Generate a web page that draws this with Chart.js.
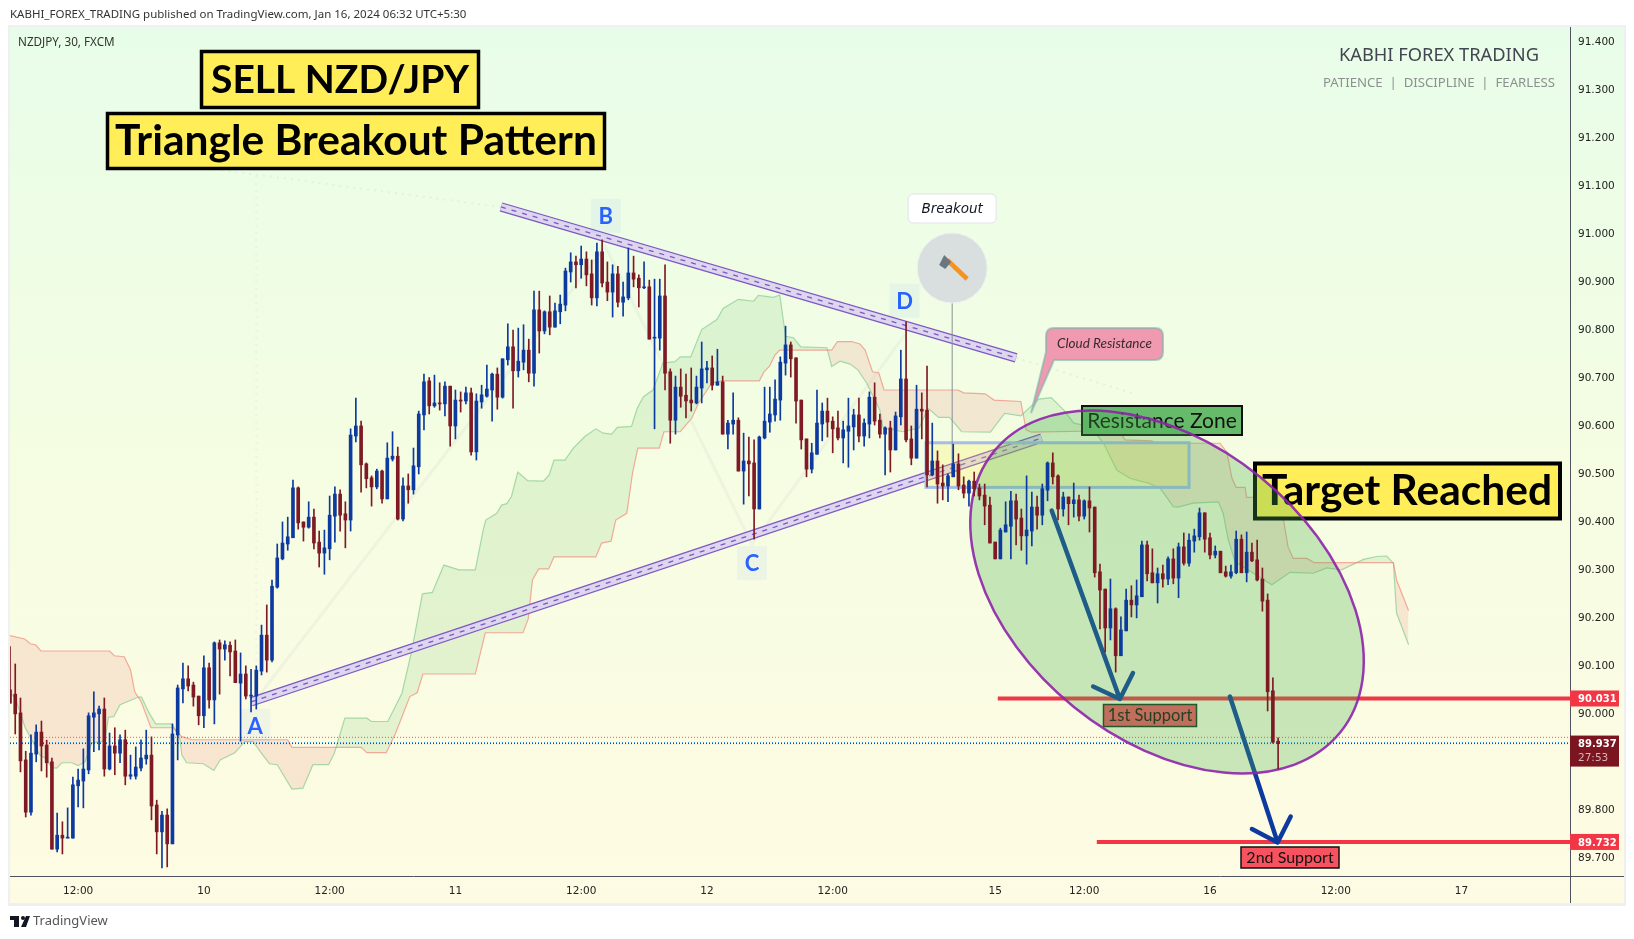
<!DOCTYPE html>
<html>
<head>
<meta charset="utf-8">
<title>NZDJPY</title>
<style>
  html, body { margin: 0; padding: 0; background: #fff; }
  #wrap { width: 1634px; height: 939px; }
</style>
</head>
<body>
<div id="wrap"><canvas id="chart" width="1634" height="939"></canvas></div>
<script src="https://cdn.jsdelivr.net/npm/chart.js@4/dist/chart.umd.min.js"></script>
<script>
// NZDJPY 30m candles, bar by bar
const opens = [
  90.049,90.040,90.001,89.903,89.794,89.915,89.961,89.934,89.899,89.717,
  89.746,89.740,89.740,89.849,89.859,89.882,89.992,89.999,90.009,89.884,
  89.932,89.917,89.945,89.869,89.869,89.886,89.905,89.913,89.809,89.753,
  89.788,89.728,89.955,90.051,90.072,90.059,90.036,89.995,90.095,90.028,
  90.147,90.134,90.142,90.130,90.063,90.082,90.036,90.036,90.088,90.163,
  90.111,90.263,90.322,90.353,90.366,90.470,90.399,90.388,90.409,90.357,
  90.334,90.343,90.411,90.457,90.416,90.403,90.578,90.599,90.520,90.491,
  90.472,90.505,90.447,90.530,90.536,90.405,90.474,90.466,90.514,90.622,
  90.693,90.641,90.647,90.645,90.682,90.599,90.653,90.651,90.668,90.545,
  90.649,90.661,90.674,90.707,90.659,90.737,90.764,90.714,90.732,90.757,
  90.709,90.841,90.797,90.837,90.805,90.837,90.851,90.920,90.941,90.935,
  90.947,90.916,90.866,90.962,90.899,90.878,90.916,90.857,90.866,90.918,
  90.907,90.887,90.889,90.782,90.782,90.870,90.712,90.611,90.680,90.663,
  90.653,90.647,90.678,90.716,90.720,90.684,90.691,90.582,90.603,90.611,
  90.505,90.526,90.522,90.426,90.574,90.607,90.622,90.653,90.730,90.768,
  90.741,90.653,90.572,90.509,90.540,90.603,90.630,90.609,90.595,90.574,
  90.588,90.597,90.622,90.578,90.603,90.659,90.611,90.582,90.595,90.549,
  90.618,90.697,90.572,90.532,90.634,90.632,90.497,90.526,90.480,90.474,
  90.493,90.520,90.476,90.459,90.484,90.470,90.455,90.434,90.357,90.322,
  90.378,90.390,90.443,90.407,90.370,90.380,90.430,90.413,90.465,90.522,
  90.495,90.426,90.451,90.437,90.445,90.411,90.443,90.430,90.295,90.259,
  90.178,90.218,90.120,90.172,90.236,90.226,90.243,90.351,90.293,90.272,
  90.291,90.280,90.322,90.282,90.347,90.313,90.359,90.368,90.418,90.366,
  90.330,90.338,90.295,90.286,90.293,90.363,90.293,90.336,90.320,90.280,
  90.236,90.047,89.942
];
const closes = [
  90.021,89.999,89.901,89.794,89.917,89.961,89.932,89.897,89.717,89.746,
  89.740,89.742,89.851,89.861,89.884,89.995,90.001,90.009,89.884,89.932,
  89.917,89.945,89.869,89.872,89.888,89.907,89.913,89.807,89.753,89.788,
  89.728,89.957,90.053,90.072,90.057,90.034,89.995,90.095,90.028,90.147,
  90.134,90.143,90.128,90.064,90.082,90.036,90.038,90.090,90.163,90.111,
  90.265,90.324,90.355,90.368,90.470,90.397,90.388,90.409,90.355,90.334,
  90.345,90.413,90.457,90.413,90.403,90.580,90.599,90.518,90.489,90.472,
  90.505,90.447,90.532,90.536,90.405,90.474,90.466,90.516,90.624,90.691,
  90.641,90.647,90.645,90.682,90.599,90.653,90.651,90.668,90.545,90.651,
  90.664,90.676,90.707,90.659,90.739,90.764,90.714,90.734,90.757,90.709,
  90.841,90.797,90.837,90.805,90.839,90.853,90.922,90.941,90.935,90.947,
  90.914,90.866,90.962,90.897,90.878,90.916,90.857,90.868,90.918,90.905,
  90.887,90.889,90.780,90.784,90.870,90.709,90.611,90.680,90.661,90.651,
  90.647,90.680,90.718,90.720,90.684,90.691,90.582,90.605,90.611,90.505,
  90.526,90.520,90.426,90.576,90.609,90.624,90.655,90.732,90.768,90.739,
  90.651,90.570,90.509,90.543,90.605,90.630,90.607,90.593,90.574,90.591,
  90.599,90.622,90.578,90.605,90.659,90.609,90.582,90.595,90.549,90.620,
  90.697,90.570,90.532,90.634,90.630,90.497,90.526,90.478,90.474,90.495,
  90.520,90.474,90.459,90.484,90.468,90.453,90.432,90.355,90.322,90.382,
  90.393,90.443,90.405,90.370,90.382,90.430,90.413,90.468,90.522,90.493,
  90.426,90.451,90.437,90.445,90.411,90.443,90.428,90.293,90.257,90.178,
  90.218,90.120,90.174,90.236,90.226,90.245,90.351,90.291,90.272,90.291,
  90.280,90.322,90.282,90.347,90.313,90.361,90.370,90.418,90.363,90.330,
  90.338,90.293,90.286,90.295,90.363,90.293,90.336,90.318,90.278,90.234,
  90.045,89.940,89.937
];
const highs = [
  90.139,90.103,90.032,89.921,89.955,89.976,89.984,89.944,89.907,89.792,
  89.774,89.803,89.867,89.884,89.926,90.001,90.045,90.015,90.032,89.959,
  89.970,89.955,89.965,89.913,89.930,89.945,89.965,89.951,89.819,89.796,
  89.801,89.978,90.059,90.105,90.099,90.065,90.036,90.120,90.105,90.149,
  90.153,90.151,90.149,90.153,90.126,90.099,90.092,90.099,90.184,90.226,
  90.278,90.353,90.399,90.409,90.486,90.472,90.399,90.441,90.426,90.380,
  90.382,90.453,90.472,90.466,90.441,90.593,90.657,90.609,90.522,90.495,
  90.509,90.507,90.564,90.587,90.555,90.491,90.499,90.553,90.630,90.707,
  90.700,90.705,90.689,90.691,90.682,90.674,90.670,90.680,90.678,90.666,
  90.684,90.726,90.709,90.720,90.739,90.812,90.799,90.803,90.810,90.780,
  90.880,90.880,90.839,90.870,90.855,90.872,90.928,90.960,90.953,90.974,
  90.962,90.945,90.980,90.987,90.941,90.935,90.932,90.899,90.970,90.953,
  90.914,90.941,90.903,90.905,90.905,90.935,90.718,90.703,90.718,90.707,
  90.720,90.703,90.774,90.734,90.745,90.759,90.703,90.611,90.668,90.616,
  90.584,90.576,90.570,90.578,90.680,90.680,90.695,90.743,90.807,90.774,
  90.741,90.653,90.572,90.563,90.674,90.647,90.657,90.618,90.630,90.609,
  90.657,90.634,90.657,90.614,90.670,90.689,90.624,90.597,90.609,90.628,
  90.757,90.816,90.599,90.684,90.668,90.724,90.605,90.547,90.518,90.499,
  90.561,90.541,90.493,90.486,90.503,90.478,90.478,90.451,90.357,90.386,
  90.441,90.463,90.457,90.426,90.495,90.461,90.453,90.478,90.524,90.543,
  90.497,90.461,90.451,90.480,90.455,90.445,90.472,90.430,90.311,90.259,
  90.280,90.220,90.201,90.259,90.266,90.278,90.359,90.359,90.343,90.303,
  90.309,90.326,90.343,90.355,90.376,90.374,90.384,90.428,90.418,90.376,
  90.349,90.338,90.307,90.309,90.380,90.372,90.378,90.355,90.361,90.303,
  90.249,90.074,89.949
];
const lows = [
  90.021,89.957,89.878,89.784,89.788,89.899,89.880,89.867,89.717,89.711,
  89.707,89.740,89.740,89.805,89.803,89.874,89.920,89.924,89.869,89.882,
  89.872,89.897,89.851,89.863,89.863,89.880,89.894,89.778,89.707,89.678,
  89.680,89.728,89.903,90.022,90.047,90.015,89.976,89.970,90.011,89.978,
  90.040,90.111,90.078,90.064,89.942,90.030,90.003,90.009,90.080,90.086,
  90.107,90.261,90.320,90.340,90.366,90.384,90.359,90.386,90.343,90.305,
  90.290,90.320,90.357,90.380,90.345,90.380,90.566,90.461,90.470,90.432,
  90.468,90.438,90.447,90.526,90.403,90.401,90.438,90.457,90.499,90.591,
  90.624,90.638,90.632,90.620,90.557,90.572,90.628,90.645,90.538,90.528,
  90.636,90.659,90.609,90.634,90.657,90.726,90.636,90.701,90.716,90.691,
  90.682,90.751,90.791,90.789,90.805,90.812,90.839,90.899,90.887,90.907,
  90.891,90.851,90.849,90.889,90.860,90.826,90.847,90.828,90.862,90.889,
  90.847,90.885,90.780,90.593,90.757,90.674,90.563,90.582,90.638,90.616,
  90.630,90.645,90.647,90.689,90.674,90.684,90.582,90.551,90.582,90.505,
  90.436,90.453,90.363,90.426,90.572,90.586,90.609,90.611,90.705,90.701,
  90.605,90.551,90.493,90.501,90.540,90.568,90.576,90.543,90.570,90.522,
  90.513,90.549,90.566,90.557,90.574,90.601,90.574,90.497,90.503,90.549,
  90.601,90.566,90.518,90.532,90.572,90.472,90.495,90.438,90.445,90.441,
  90.493,90.466,90.449,90.432,90.453,90.445,90.393,90.355,90.322,90.322,
  90.378,90.322,90.351,90.340,90.311,90.349,90.384,90.393,90.443,90.478,
  90.403,90.411,90.393,90.409,90.401,90.405,90.378,90.284,90.176,90.128,
  90.153,90.086,90.120,90.172,90.201,90.199,90.243,90.276,90.272,90.230,
  90.263,90.268,90.270,90.241,90.309,90.307,90.336,90.361,90.336,90.322,
  90.324,90.293,90.284,90.282,90.291,90.293,90.274,90.316,90.276,90.213,
  90.005,89.938,89.884
];

// ichimoku cloud edges, corners only: bar position and price
const spanBBars = [0,2.8,3.9,4.9,5.9,19,19.9,21.8,23,23.8,25,26.9,31.2,32.7,34.7,53,53.8,67,68.1,71.8,73.6,76.3,77.7,78.8,88.8,90.7,97.9,98.9,99.7,100.9,102.8,103.8,111.8,112.9,114.7,115.6,117.7,118.8,119.8,123.9,124.8,127.9,130.1,131.4,133.9,135.8,143,143.9,144.9,146,146.9,156.8,157.9,160.6,162.2,163.2,164.6,165.8,166.8,180.9,182,186.1,187.8,192.9,193.9,194.9,209.9,210.9,212.8,217.9,218.8,230.9,232.2,233.2,234,235.7,236,238.9,239.8,243,243.9,244.9,247.5,248.9,264,264.6,266.9];
const spanB = [90.162,90.155,90.145,90.143,90.130,90.130,90.120,90.118,90.091,90.045,90.025,89.970,89.970,89.952,89.945,89.945,89.929,89.929,89.918,89.918,89.959,90.035,90.043,90.082,90.082,90.168,90.168,90.197,90.278,90.301,90.301,90.326,90.326,90.355,90.359,90.403,90.417,90.501,90.553,90.553,90.587,90.587,90.615,90.647,90.688,90.693,90.693,90.712,90.723,90.747,90.757,90.757,90.775,90.775,90.770,90.757,90.712,90.710,90.674,90.674,90.668,90.666,90.653,90.650,90.591,90.586,90.589,90.601,90.570,90.568,90.563,90.563,90.545,90.490,90.471,90.471,90.450,90.450,90.407,90.405,90.347,90.323,90.323,90.314,90.314,90.278,90.214];
const spanABars = [0,1,2.9,3.8,5.7,6.7,8,8.9,9.9,11.8,13,14.3,15.6,18.1,18.8,19.8,21,24.5,25.1,26.4,27.8,30.9,32.4,32.8,33.7,36.9,38.9,40.1,42.9,44.8,46.4,47.9,49.5,51,53.8,55.9,57.8,60.8,61.9,63.9,68.1,69,72.1,74.8,76.7,78.7,80.6,82.8,85.7,88.8,90.3,90.8,92.9,93.8,94.8,95.7,96.9,98.8,101.8,102.9,103.8,105.9,107.5,109.7,111.8,113.2,114.8,115.9,118.6,119.7,120.9,122.7,124.6,126.9,127.9,129.9,132,134.9,136.1,139,141.9,142.8,145.7,146.9,148,149.5,150.9,155.9,156.8,158.4,160.3,161.8,163.5,166,166.6,170.4,173.5,175.2,177.2,179.3,181.6,187.1,189.8,192.9,196.3,198.7,201.1,203,206.1,208.7,211.2,213.7,217.2,219.5,222,222.9,225.8,230.6,231.5,232.5,233.8,240.8,244.3,248.7,251.3,254.1,258.3,260.8,262.7,264,264.6,266.9];
const spanA = [90.042,90.032,89.970,89.952,89.913,89.907,89.887,89.886,89.897,89.897,89.891,89.899,89.938,89.943,89.992,89.993,90.018,90.034,90.034,90.004,89.978,89.978,89.948,89.913,89.897,89.895,89.881,89.903,89.918,89.941,89.941,89.918,89.895,89.893,89.842,89.844,89.893,89.893,89.917,89.990,89.990,89.983,89.983,90.042,90.132,90.249,90.252,90.309,90.299,90.299,90.382,90.403,90.417,90.434,90.437,90.452,90.503,90.485,90.484,90.497,90.528,90.528,90.553,90.577,90.593,90.584,90.582,90.596,90.598,90.636,90.660,90.674,90.730,90.733,90.743,90.743,90.800,90.821,90.844,90.863,90.859,90.871,90.867,90.872,90.786,90.783,90.764,90.762,90.723,90.734,90.728,90.716,90.688,90.632,90.595,90.587,90.595,90.636,90.617,90.617,90.587,90.586,90.625,90.620,90.655,90.658,90.632,90.605,90.598,90.563,90.507,90.490,90.480,90.469,90.431,90.430,90.438,90.441,90.417,90.361,90.316,90.268,90.294,90.292,90.303,90.299,90.321,90.327,90.328,90.313,90.209,90.143];

// axis ticks
const xTickBars = [13,37,61,85,109,133,157,188,205,229,253,277];
const xTickLabels = ['12:00','10','12:00','11','12:00','12','12:00','15','12:00','16','12:00','17'];
const yTicks = [91.4,91.3,91.2,91.1,91.0,90.9,90.8,90.7,90.6,90.5,90.4,90.3,90.2,90.1,90.0,89.8,89.7];

// drawn objects on the chart: bar position and price
const upperBars = [93.7,192];
const upperPrices = [91.0555,90.741];
const lowerBars = [46,196.9];
const lowerPrices = [90.024,90.574];
const arrow1Bars = [198.8,211.8,206.7,211.8,214.3];
const arrow1Prices = [90.4225,90.030,90.056,90.030,90.084];
const arrow2Bars = [232.8,241.9,237,241.9,244.4];
const arrow2Prices = [90.035,89.731,89.759,89.731,89.785];
const patternBars = [47,113.6,141.6,170.8];
const patternPrices = [90.03,90.973,90.352,90.79];
const firstSupport = 90.031;
const secondSupport = 89.732;
const lastPrice = 89.937;
const priceLines = [89.950,89.939,89.937];
const lastBarEnd = 297.7;

const UP = '#0d3a9e';
const DOWN = '#7f1a24';
const WICKS = 9; // index of the wick dataset, drawings go right below it
const pairs = (xs, ys) => xs.map((x, i) => ({ x, y: ys[i] }));
const barColors = opens.map((o, i) => closes[i] >= o ? UP : DOWN);

function box(ctx, x, y, w, h, fill, stroke, lw) {
  ctx.fillStyle = fill;
  ctx.fillRect(x, y, w, h);
  if (stroke) {
    ctx.strokeStyle = stroke;
    ctx.lineWidth = lw;
    ctx.strokeRect(x, y, w, h);
  }
}

function label(ctx, text, x, y, font, color, align) {
  ctx.font = font;
  ctx.fillStyle = color;
  ctx.textAlign = align || 'left';
  ctx.textBaseline = 'middle';
  ctx.fillText(text, x, y);
}

const drawings = {
  id: 'drawings',
  beforeDraw(chart) {
    const { ctx, chartArea: a } = chart;
    ctx.save();
    ctx.fillStyle = '#eef0f1';
    ctx.fillRect(8, 25, 1618, 881);
    const g = ctx.createLinearGradient(0, 27, 0, 903);
    g.addColorStop(0, '#e8fde9');
    g.addColorStop(0.5, '#f5fde2');
    g.addColorStop(1, '#fefbe3');
    ctx.fillStyle = g;
    ctx.fillRect(10, 27, 1614, 876);
    ctx.strokeStyle = '#50535e';
    ctx.lineWidth = 1;
    ctx.beginPath();
    ctx.moveTo(a.right + 0.5, 27);
    ctx.lineTo(a.right + 0.5, 903);
    ctx.moveTo(10, a.bottom + 0.5);
    ctx.lineTo(1624, a.bottom + 0.5);
    ctx.stroke();
    label(ctx, 'KABHI_FOREX_TRADING published on TradingView.com, Jan 16, 2024 06:32 UTC+5:30', 10, 15, '11.5px "Noto Sans"', '#333');
    label(ctx, 'NZDJPY, 30, FXCM', 18, 43, '11.7px "Noto Sans"', '#333');
    label(ctx, 'KABHI FOREX TRADING', 1539, 56, '18.3px "Noto Sans"', '#434651', 'right');
    label(ctx, 'PATIENCE  |  DISCIPLINE  |  FEARLESS', 1555, 83, '13.2px "Noto Sans"', '#8c9090', 'right');
    // TradingView logo
    ctx.fillStyle = '#131722';
    ctx.fillRect(10, 916, 9, 4);
    ctx.fillRect(14, 916, 5, 11);
    ctx.beginPath();
    ctx.arc(23, 918, 2, 0, Math.PI * 2);
    ctx.fill();
    ctx.beginPath();
    ctx.moveTo(26, 916);
    ctx.lineTo(30, 916);
    ctx.lineTo(26, 927);
    ctx.lineTo(21, 927);
    ctx.closePath();
    ctx.fill();
    label(ctx, 'TradingView', 33, 921, '13px "Noto Sans"', '#555');
    ctx.restore();
  },
  beforeDatasetDraw(chart, args) {
    if (args.index !== WICKS) return;
    const { ctx, scales: { x, y } } = chart;
    ctx.save();

    // resistance zone
    const zx = x.getPixelForValue(174.8), zy = y.getPixelForValue(90.564);
    const zw = x.getPixelForValue(225) - zx, zh = y.getPixelForValue(90.471) - zy;
    box(ctx, zx, zy, zw, zh, 'rgba(255,235,59,0.22)', '#a4bdea', 3);

    // letters of the pattern
    [['A', 46.8, 89.974], ['B', 113.7, 91.037], ['C', 141.6, 90.313], ['D', 170.7, 90.860]].forEach(p => {
      const px = x.getPixelForValue(p[1]), py = y.getPixelForValue(p[2]);
      ctx.fillStyle = 'rgba(41,98,255,0.05)';
      ctx.fillRect(px - 15, py - 17, 30, 34);
      label(ctx, p[0], px, py + 1, 'bold 22px Lato', '#2962ff', 'center');
    });

    // breakout marker
    const bx = x.getPixelForValue(179.8);
    ctx.strokeStyle = '#8b8f96';
    ctx.lineWidth = 1;
    ctx.beginPath();
    ctx.moveTo(bx, y.getPixelForValue(90.93));
    ctx.lineTo(bx, y.getPixelForValue(90.5));
    ctx.stroke();
    ctx.beginPath();
    ctx.arc(bx, 268, 35, 0, Math.PI * 2);
    ctx.fillStyle = '#d9dedf';
    ctx.fill();
    ctx.strokeStyle = '#eef1f0';
    ctx.stroke();
    ctx.strokeStyle = '#f7931a';
    ctx.lineWidth = 4.5;
    ctx.beginPath();
    ctx.moveTo(bx - 5, 260);
    ctx.lineTo(bx + 15, 279);
    ctx.stroke();
    ctx.fillStyle = '#6b7780';
    ctx.beginPath();
    ctx.moveTo(bx - 8, 255);
    ctx.lineTo(bx - 1, 262);
    ctx.lineTo(bx - 7, 269);
    ctx.lineTo(bx - 13, 265);
    ctx.closePath();
    ctx.fill();
    ctx.beginPath();
    ctx.roundRect(bx - 44, 194, 88, 29, 5);
    ctx.fillStyle = '#fff';
    ctx.fill();
    ctx.strokeStyle = '#e0e3eb';
    ctx.lineWidth = 1;
    ctx.stroke();
    label(ctx, 'Breakout', bx, 209, 'italic 13.5px "DejaVu Sans"', '#131722', 'center');

    // cloud resistance callout
    ctx.beginPath();
    ctx.moveTo(1054, 328);
    ctx.lineTo(1155, 328);
    ctx.quadraticCurveTo(1163, 328, 1163, 336);
    ctx.lineTo(1163, 352);
    ctx.quadraticCurveTo(1163, 360, 1155, 360);
    ctx.lineTo(1054, 360);
    ctx.lineTo(1031, 413);
    ctx.lineTo(1046, 352);
    ctx.lineTo(1046, 336);
    ctx.quadraticCurveTo(1046, 328, 1054, 328);
    ctx.closePath();
    ctx.fillStyle = '#ef9ab0';
    ctx.fill();
    ctx.strokeStyle = 'rgba(120,180,170,0.6)';
    ctx.lineWidth = 2;
    ctx.stroke();
    label(ctx, 'Cloud Resistance', 1104.5, 344, 'italic 13.5px Lato', '#3a2a2e', 'center');

    // text boxes
    box(ctx, 1082, 406, 160, 29, '#66bb6a', '#111', 2);
    label(ctx, 'Resistance Zone', 1162, 421, '21px Lato', '#111', 'center');
    box(ctx, 1103.5, 704.5, 93, 22, '#ef5560', '#16331c', 1.5);
    label(ctx, '1st Support', 1150, 716, '16.5px Lato', '#111', 'center');
    box(ctx, 1241, 847, 98, 21, '#f7525f', '#111', 1.5);
    label(ctx, '2nd Support', 1290, 858, '16px Lato', '#111', 'center');
    box(ctx, 201.5, 51.5, 277, 56, '#ffee58', '#000', 3.5);
    label(ctx, 'SELL NZD/JPY', 340, 80, 'bold 39px Lato', '#000', 'center');
    box(ctx, 107.5, 113.5, 497, 55, '#ffee58', '#000', 3.5);
    label(ctx, 'Triangle Breakout Pattern', 356, 141, 'bold 42.5px Lato', '#000', 'center');
    box(ctx, 1255, 463.5, 305, 55, '#ffee58', '#000', 4);
    label(ctx, 'Target Reached', 1407, 491, 'bold 42.5px Lato', '#000', 'center');

    // ellipse goes over everything except the candles
    ctx.beginPath();
    ctx.ellipse(x.getPixelForValue(220.8), y.getPixelForValue(90.253), 223, 148, 39 * Math.PI / 180, 0, Math.PI * 2);
    ctx.fillStyle = 'rgba(76,175,80,0.29)';
    ctx.fill();
    ctx.strokeStyle = 'rgba(142,36,170,0.9)';
    ctx.lineWidth = 2.5;
    ctx.stroke();
    ctx.restore();
  },
  afterDatasetsDraw(chart) {
    const { ctx, scales: { y }, chartArea: a } = chart;
    ctx.save();
    // price labels on the axis
    const tag = (price, text) => {
      const py = y.getPixelForValue(price);
      box(ctx, a.right, py - 8, 49, 16, '#f23645');
      label(ctx, text, a.right + 8, py + 1, 'bold 10px "DejaVu Sans"', '#fff');
    };
    tag(firstSupport, firstSupport.toFixed(3));
    tag(secondSupport, secondSupport.toFixed(3));
    const lp = y.getPixelForValue(lastPrice);
    box(ctx, a.right, lp - 8, 49, 31, '#7b1520');
    label(ctx, lastPrice.toFixed(3), a.right + 8, lp + 1, 'bold 10px "DejaVu Sans"', '#fff');
    label(ctx, '27:53', a.right + 8, lp + 15, '10.5px "DejaVu Sans"', '#d8b4b8');
    ctx.restore();
  }
};

const line = (data, color, width, order, extra) => Object.assign({
  type: 'line', data, borderColor: color, borderWidth: width,
  pointRadius: 0, tension: 0, fill: false, order
}, extra || {});

new Chart(document.getElementById('chart'), {
  type: 'bar',
  plugins: [drawings],
  data: {
    datasets: [
      line(pairs(spanABars, spanA), 'rgba(140,205,150,0.75)', 1.2, 30, {
        fill: { target: 1, above: 'rgba(76,175,80,0.13)', below: 'rgba(235,105,110,0.15)' }
      }),
      line(pairs(spanBBars, spanB), 'rgba(242,120,110,0.6)', 1.2, 29),
      line(pairs([0, lastBarEnd], [priceLines[0], priceLines[0]]), '#ef5350', 1, 28, { borderDash: [1, 2] }),
      line(pairs([0, lastBarEnd], [priceLines[1], priceLines[1]]), '#2196f3', 1, 27, { borderDash: [1, 2] }),
      line(pairs([0, lastBarEnd], [priceLines[2], priceLines[2]]), '#7b1520', 1, 26, { borderDash: [1, 2] }),
      line(pairs(patternBars, patternPrices), 'rgba(190,190,190,0.14)', 3, 25),
      line(pairs([93.7, 35], [91.0555, 91.14]), 'rgba(200,210,200,0.25)', 2, 25, { borderDash: [2, 5] }),
      line(pairs([192, 215], [90.741, 90.665]), 'rgba(200,210,200,0.3)', 2, 25, { borderDash: [2, 5] }),
      line(pairs([47, 47], [91.12, 90.1]), 'rgba(200,210,200,0.2)', 2, 25, { borderDash: [2, 5] }),
      {
        type: 'bar', order: 1, grouped: false, barThickness: 1,
        data: highs.map((h, i) => ({ x: i, y: [lows[i], h] })),
        backgroundColor: barColors
      },
      {
        type: 'bar', order: 0, grouped: false, barThickness: 3, minBarLength: 1,
        data: opens.map((o, i) => ({ x: i, y: [o, closes[i]] })),
        backgroundColor: barColors
      },
      line(pairs(upperBars, upperPrices), '#7e57c2', 9.5, 13),
      line(pairs(upperBars, upperPrices), '#ddd6ef', 7, 12),
      line(pairs(upperBars, upperPrices), '#7e57c2', 1.3, 11, { borderDash: [5, 6] }),
      line(pairs(lowerBars, lowerPrices), '#7e57c2', 9.5, 13),
      line(pairs(lowerBars, lowerPrices), '#ddd6ef', 7, 12),
      line(pairs(lowerBars, lowerPrices), '#7e57c2', 1.3, 11, { borderDash: [5, 6] }),
      line(pairs([188.5, lastBarEnd], [firstSupport, firstSupport]), '#f23645', 4, 10),
      line(pairs([207.4, lastBarEnd], [secondSupport, secondSupport]), '#f23645', 4, 10),
      line(pairs(arrow1Bars, arrow1Prices), '#0d3a9e', 4.5, 9, { borderCapStyle: 'round', borderJoinStyle: 'round' }),
      line(pairs(arrow2Bars, arrow2Prices), '#0d3a9e', 4.5, 9, { borderCapStyle: 'round', borderJoinStyle: 'round' })
    ]
  },
  options: {
    responsive: false,
    animation: false,
    devicePixelRatio: 1,
    layout: { padding: { left: 10, top: 27, right: 10, bottom: 36 } },
    plugins: { legend: { display: false }, tooltip: { enabled: false } },
    scales: {
      x: {
        type: 'linear', offset: false, min: 0, max: lastBarEnd,
        grid: { display: false }, border: { display: false },
        afterBuildTicks: s => { s.ticks = xTickBars.map(v => ({ value: v })); },
        afterFit: s => { s.height = 27; },
        ticks: {
          autoSkip: false, maxRotation: 0, padding: 1, color: '#222',
          font: { family: 'DejaVu Sans', size: 10.5 },
          callback: v => xTickLabels[xTickBars.indexOf(v)]
        }
      },
      y: {
        position: 'right', min: 89.661, max: 91.4306,
        grid: { display: false }, border: { display: false },
        afterBuildTicks: s => { s.ticks = yTicks.map(v => ({ value: v })); },
        afterFit: s => { s.width = 54; },
        ticks: {
          autoSkip: false, padding: 0, labelOffset: 1, color: '#222',
          font: { family: 'DejaVu Sans', size: 10.5 },
          callback: v => v.toFixed(3)
        }
      }
    }
  }
});
</script>
</body>
</html>
